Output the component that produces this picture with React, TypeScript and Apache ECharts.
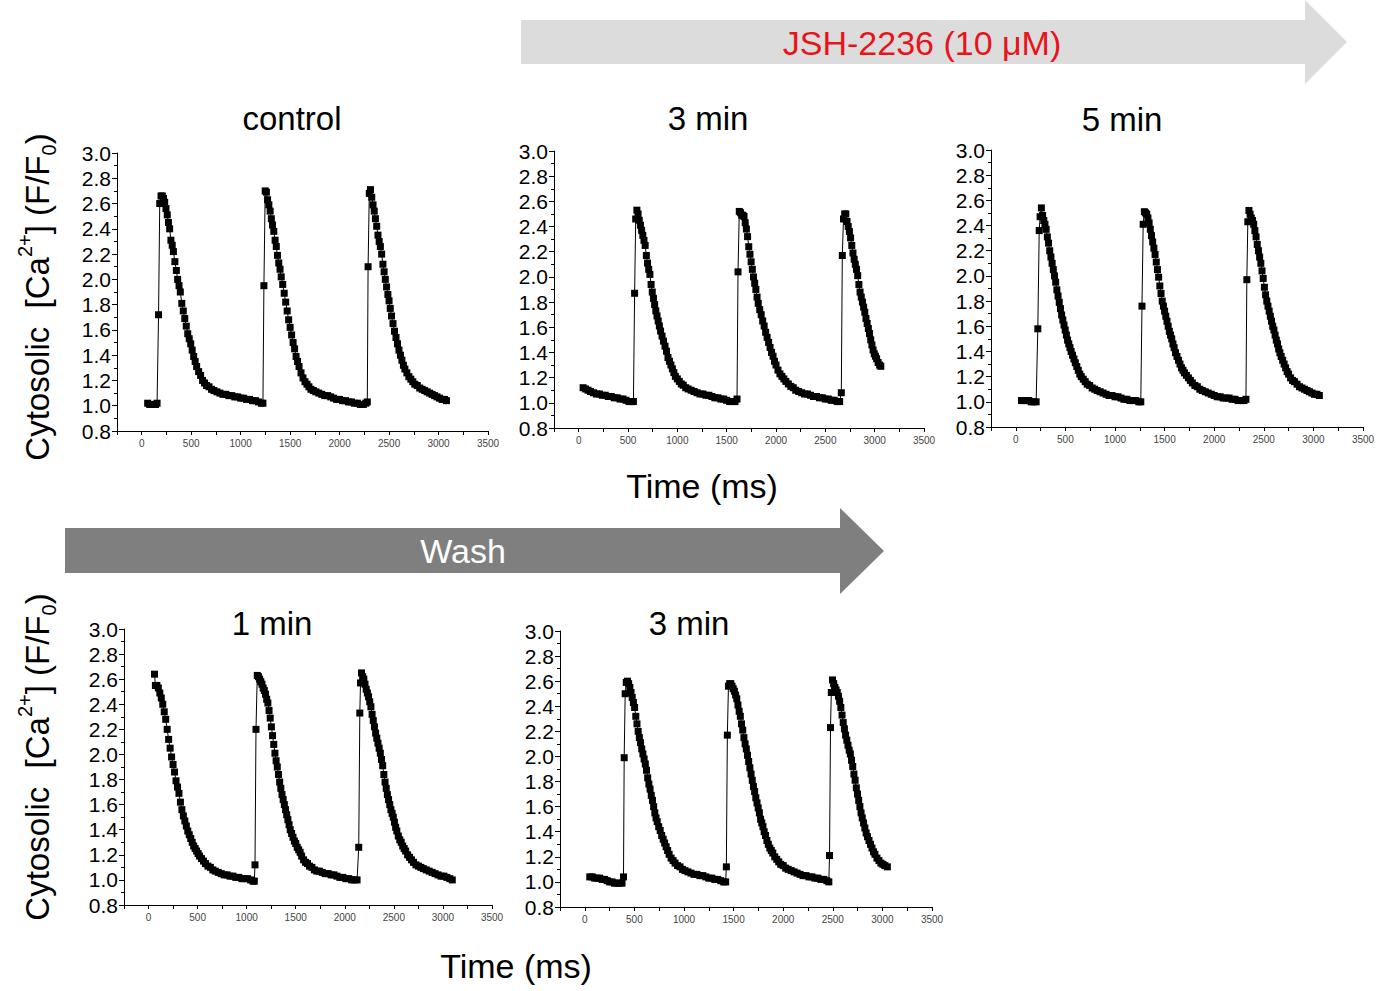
import React, { useEffect, useRef } from "react";
import * as echarts from "echarts";

// ---------- data (time in ms, cytosolic Ca2+ as F/F0) ----------
const panelTitles = ["control", "3 min", "5 min", "1 min", "3 min"];
const xTitle = "Time (ms)";
const drugLabel = "JSH-2236 (10 μM)";
const washLabel = "Wash";

const ctrlTrace: number[][] = [
  [60,1.02],[80,1.01],[100,1.01],[120,1.01],[140,1.01],[155,1.02],[170,1.72],[182,2.60],[195,2.66],[208,2.66],[220,2.64],[232,2.61],[245,2.56],[258,2.51],[270,2.45],[282,2.40],[295,2.31],[308,2.27],[320,2.22],[335,2.14],[350,2.07],[363,2.00],[377,1.95],[390,1.90],[405,1.81],[420,1.75],[435,1.69],[450,1.63],[465,1.57],[480,1.53],[495,1.49],[510,1.44],[525,1.39],[540,1.35],[555,1.31],[575,1.27],[595,1.24],[615,1.20],[635,1.18],[655,1.16],[680,1.15],[705,1.13],[730,1.12],[760,1.11],[790,1.10],[820,1.09],[850,1.09],[880,1.08],[910,1.08],[940,1.07],[970,1.07],[1000,1.06],[1030,1.06],[1060,1.05],[1090,1.05],[1120,1.04],[1150,1.04],[1180,1.03],[1210,1.02],[1225,1.02],
  [1235,1.95],[1248,2.70],[1260,2.69],[1272,2.63],[1285,2.59],[1298,2.54],[1310,2.48],[1322,2.43],[1335,2.38],[1348,2.31],[1360,2.26],[1372,2.19],[1385,2.13],[1398,2.08],[1410,2.02],[1425,1.96],[1440,1.89],[1455,1.82],[1470,1.75],[1485,1.68],[1500,1.62],[1515,1.56],[1530,1.50],[1545,1.45],[1560,1.39],[1575,1.35],[1590,1.31],[1610,1.26],[1630,1.22],[1650,1.19],[1670,1.17],[1690,1.15],[1710,1.13],[1735,1.12],[1760,1.11],[1790,1.10],[1820,1.09],[1850,1.08],[1880,1.08],[1910,1.07],[1940,1.06],[1970,1.05],[2000,1.05],[2030,1.04],[2060,1.04],[2090,1.03],[2120,1.03],[2150,1.02],[2180,1.02],[2210,1.01],[2240,1.01],[2265,1.02],[2280,1.03],
  [2288,2.10],[2300,2.68],[2312,2.71],[2325,2.65],[2338,2.59],[2350,2.54],[2362,2.48],[2375,2.42],[2388,2.35],[2400,2.30],[2412,2.26],[2425,2.20],[2438,2.12],[2450,2.06],[2462,2.00],[2475,1.94],[2488,1.88],[2500,1.83],[2512,1.77],[2525,1.71],[2540,1.65],[2555,1.59],[2570,1.54],[2585,1.49],[2600,1.44],[2615,1.40],[2630,1.36],[2645,1.32],[2660,1.29],[2680,1.26],[2700,1.23],[2720,1.21],[2740,1.19],[2760,1.17],[2785,1.16],[2810,1.14],[2835,1.13],[2860,1.12],[2885,1.11],[2910,1.10],[2935,1.09],[2960,1.08],[2985,1.07],[3010,1.06],[3035,1.05],[3060,1.05],[3080,1.04]
];

const drug3Trace: number[][] = [
  [45,1.12],[70,1.11],[95,1.10],[120,1.09],[150,1.08],[180,1.07],[210,1.07],[240,1.06],[270,1.06],[300,1.05],[330,1.05],[360,1.04],[390,1.04],[420,1.03],[450,1.03],[480,1.02],[510,1.01],[535,1.01],[555,1.01],
  [567,1.87],[578,2.46],[590,2.53],[602,2.50],[614,2.45],[626,2.41],[638,2.37],[650,2.33],[662,2.29],[674,2.25],[686,2.17],[698,2.11],[710,2.06],[722,2.02],[734,1.94],[746,1.88],[758,1.83],[770,1.78],[782,1.73],[794,1.69],[806,1.65],[818,1.61],[830,1.57],[845,1.53],[860,1.49],[875,1.45],[890,1.41],[905,1.36],[920,1.33],[935,1.30],[950,1.27],[965,1.24],[980,1.21],[1000,1.19],[1020,1.17],[1040,1.15],[1060,1.14],[1085,1.12],[1110,1.11],[1140,1.10],[1170,1.09],[1200,1.08],[1230,1.07],[1260,1.07],[1290,1.06],[1320,1.06],[1350,1.05],[1380,1.04],[1410,1.04],[1440,1.03],[1470,1.03],[1500,1.02],[1530,1.01],[1560,1.01],[1585,1.01],[1605,1.03],
  [1615,2.04],[1628,2.52],[1640,2.51],[1652,2.49],[1664,2.49],[1676,2.48],[1688,2.43],[1700,2.38],[1712,2.32],[1724,2.24],[1736,2.18],[1748,2.12],[1760,2.06],[1772,2.00],[1784,1.95],[1796,1.90],[1808,1.84],[1820,1.79],[1835,1.74],[1850,1.70],[1865,1.65],[1880,1.61],[1895,1.56],[1910,1.52],[1925,1.48],[1940,1.44],[1955,1.40],[1970,1.37],[1985,1.33],[2000,1.30],[2020,1.26],[2040,1.23],[2060,1.21],[2080,1.19],[2100,1.17],[2125,1.15],[2150,1.13],[2175,1.12],[2200,1.10],[2230,1.09],[2260,1.08],[2290,1.07],[2320,1.07],[2350,1.06],[2380,1.05],[2410,1.05],[2440,1.04],[2470,1.04],[2500,1.03],[2530,1.03],[2560,1.02],[2590,1.02],[2620,1.01],[2645,1.01],[2662,1.08],
  [2672,2.17],[2684,2.46],[2696,2.50],[2708,2.50],[2720,2.44],[2732,2.40],[2744,2.36],[2756,2.31],[2768,2.25],[2780,2.19],[2792,2.14],[2804,2.10],[2816,2.06],[2828,2.01],[2840,1.94],[2852,1.88],[2864,1.84],[2876,1.80],[2888,1.76],[2900,1.72],[2912,1.67],[2924,1.63],[2936,1.59],[2948,1.55],[2960,1.50],[2972,1.46],[2984,1.42],[2996,1.39],[3008,1.37],[3020,1.35],[3035,1.32],[3050,1.30],[3062,1.29]
];

const drug5Trace: number[][] = [
  [57,1.01],[80,1.01],[105,1.01],[130,1.01],[155,1.00],[180,1.00],[205,1.00],[222,1.58],[236,2.36],[245,2.47],[258,2.54],[270,2.48],[282,2.44],[294,2.41],[306,2.37],[318,2.31],[330,2.26],[342,2.20],[354,2.15],[366,2.10],[378,2.05],[390,2.00],[402,1.95],[414,1.89],[426,1.84],[438,1.79],[450,1.74],[462,1.69],[474,1.65],[486,1.61],[498,1.57],[510,1.53],[522,1.49],[534,1.46],[546,1.43],[558,1.40],[572,1.37],[586,1.34],[600,1.31],[615,1.28],[630,1.25],[645,1.22],[660,1.20],[680,1.18],[700,1.16],[720,1.14],[745,1.13],[770,1.11],[795,1.10],[820,1.09],[850,1.08],[880,1.07],[910,1.06],[940,1.05],[970,1.05],[1000,1.04],[1030,1.04],[1060,1.03],[1090,1.02],[1120,1.02],[1150,1.01],[1180,1.01],[1210,1.01],[1240,1.00],[1260,1.00],
  [1272,1.76],[1284,2.41],[1296,2.51],[1308,2.50],[1320,2.49],[1332,2.46],[1344,2.42],[1356,2.37],[1368,2.32],[1380,2.27],[1392,2.22],[1404,2.17],[1416,2.11],[1428,2.05],[1440,1.99],[1452,1.92],[1464,1.86],[1476,1.80],[1488,1.76],[1500,1.72],[1512,1.68],[1524,1.64],[1536,1.60],[1548,1.56],[1560,1.53],[1572,1.50],[1584,1.46],[1596,1.43],[1610,1.39],[1625,1.36],[1640,1.33],[1655,1.30],[1670,1.27],[1685,1.25],[1700,1.23],[1720,1.21],[1740,1.19],[1760,1.17],[1780,1.15],[1805,1.13],[1830,1.12],[1855,1.10],[1880,1.09],[1910,1.08],[1940,1.07],[1970,1.06],[2000,1.05],[2030,1.04],[2060,1.04],[2090,1.03],[2120,1.03],[2150,1.03],[2180,1.02],[2210,1.02],[2240,1.01],[2270,1.01],[2300,1.01],[2320,1.02],
  [2329,1.97],[2339,2.43],[2350,2.52],[2362,2.49],[2374,2.46],[2386,2.44],[2398,2.41],[2410,2.36],[2422,2.31],[2434,2.25],[2446,2.20],[2458,2.15],[2470,2.10],[2482,2.04],[2494,1.98],[2506,1.91],[2518,1.85],[2530,1.80],[2542,1.76],[2554,1.72],[2566,1.68],[2578,1.64],[2590,1.60],[2602,1.57],[2614,1.53],[2626,1.49],[2638,1.46],[2650,1.42],[2662,1.39],[2675,1.36],[2690,1.33],[2705,1.30],[2720,1.27],[2735,1.24],[2750,1.22],[2770,1.19],[2790,1.17],[2810,1.16],[2835,1.14],[2860,1.12],[2885,1.11],[2910,1.10],[2935,1.09],[2960,1.08],[2985,1.07],[3010,1.06],[3035,1.06],[3060,1.05]
];

const wash1Trace: number[][] = [
  [61,2.64],[70,2.55],[85,2.55],[100,2.53],[115,2.49],[130,2.45],[145,2.40],[160,2.34],[175,2.28],[190,2.20],[205,2.12],[220,2.05],[235,1.98],[250,1.92],[265,1.86],[280,1.79],[295,1.74],[310,1.69],[325,1.62],[340,1.56],[355,1.51],[370,1.47],[385,1.43],[400,1.39],[415,1.36],[430,1.33],[445,1.30],[460,1.27],[475,1.25],[490,1.23],[505,1.21],[520,1.19],[540,1.17],[560,1.15],[580,1.13],[605,1.11],[630,1.10],[655,1.08],[680,1.07],[710,1.06],[740,1.05],[770,1.04],[800,1.04],[830,1.03],[860,1.03],[890,1.02],[920,1.02],[950,1.01],[980,1.01],[1010,1.01],[1040,1.00],[1065,0.99],[1078,0.99],
  [1085,1.12],[1095,2.20],[1108,2.63],[1120,2.62],[1132,2.60],[1144,2.58],[1156,2.56],[1168,2.53],[1180,2.51],[1192,2.48],[1204,2.44],[1216,2.41],[1228,2.35],[1240,2.29],[1252,2.22],[1264,2.15],[1276,2.08],[1288,2.01],[1300,1.95],[1312,1.90],[1324,1.84],[1336,1.78],[1348,1.73],[1360,1.68],[1372,1.64],[1384,1.60],[1396,1.56],[1408,1.52],[1420,1.48],[1432,1.44],[1444,1.40],[1458,1.37],[1472,1.34],[1486,1.31],[1500,1.29],[1515,1.26],[1530,1.24],[1545,1.22],[1560,1.19],[1580,1.16],[1600,1.14],[1620,1.13],[1640,1.11],[1665,1.10],[1690,1.08],[1715,1.07],[1740,1.07],[1770,1.06],[1800,1.05],[1830,1.05],[1860,1.04],[1890,1.04],[1920,1.03],[1950,1.02],[1980,1.02],[2010,1.01],[2040,1.01],[2070,1.00],[2100,1.00],[2125,1.00],
  [2142,1.26],[2153,2.33],[2160,2.57],[2170,2.65],[2182,2.62],[2194,2.60],[2206,2.56],[2218,2.52],[2230,2.49],[2242,2.46],[2254,2.42],[2266,2.38],[2278,2.32],[2290,2.27],[2302,2.22],[2314,2.17],[2326,2.13],[2338,2.09],[2350,2.05],[2362,2.01],[2374,1.96],[2386,1.91],[2398,1.84],[2410,1.78],[2422,1.73],[2434,1.68],[2446,1.64],[2458,1.60],[2470,1.56],[2482,1.53],[2494,1.50],[2506,1.46],[2518,1.42],[2530,1.39],[2545,1.35],[2560,1.32],[2575,1.30],[2590,1.27],[2605,1.25],[2620,1.23],[2640,1.20],[2660,1.18],[2680,1.16],[2700,1.14],[2725,1.12],[2750,1.11],[2775,1.10],[2800,1.09],[2830,1.08],[2860,1.07],[2890,1.06],[2920,1.05],[2950,1.04],[2980,1.03],[3010,1.03],[3040,1.02],[3070,1.01],[3095,1.00]
];

const wash3Trace: number[][] = [
  [50,1.04],[75,1.04],[100,1.03],[125,1.03],[150,1.03],[175,1.02],[200,1.02],[225,1.01],[250,1.00],[275,1.00],[300,0.99],[325,0.99],[350,0.99],[375,0.99],[390,1.04],
  [397,1.99],[407,2.50],[418,2.59],[430,2.60],[442,2.58],[454,2.55],[466,2.51],[478,2.47],[490,2.43],[502,2.39],[514,2.32],[526,2.26],[538,2.20],[550,2.15],[562,2.11],[574,2.06],[586,2.02],[598,1.98],[610,1.94],[622,1.89],[634,1.83],[646,1.78],[658,1.74],[670,1.69],[682,1.65],[694,1.60],[706,1.55],[718,1.51],[730,1.48],[745,1.44],[760,1.41],[775,1.37],[790,1.34],[805,1.31],[820,1.28],[835,1.25],[850,1.22],[870,1.19],[890,1.17],[910,1.15],[935,1.13],[960,1.12],[985,1.10],[1010,1.09],[1040,1.08],[1070,1.07],[1100,1.06],[1130,1.06],[1160,1.05],[1190,1.05],[1220,1.04],[1250,1.03],[1280,1.03],[1310,1.02],[1340,1.02],[1370,1.01],[1400,1.00],[1420,1.00],
  [1427,1.12],[1437,2.17],[1448,2.56],[1460,2.58],[1472,2.58],[1484,2.56],[1496,2.54],[1508,2.52],[1520,2.49],[1532,2.46],[1544,2.41],[1556,2.36],[1568,2.32],[1580,2.26],[1592,2.21],[1604,2.15],[1616,2.10],[1628,2.06],[1640,2.01],[1652,1.96],[1664,1.91],[1676,1.86],[1688,1.81],[1700,1.76],[1712,1.72],[1724,1.67],[1736,1.63],[1748,1.59],[1760,1.55],[1772,1.50],[1784,1.47],[1796,1.44],[1808,1.40],[1822,1.37],[1836,1.33],[1850,1.30],[1865,1.27],[1880,1.25],[1895,1.23],[1915,1.20],[1935,1.18],[1955,1.16],[1975,1.14],[2000,1.13],[2025,1.11],[2050,1.10],[2080,1.09],[2110,1.08],[2140,1.07],[2170,1.06],[2200,1.05],[2230,1.05],[2260,1.04],[2290,1.04],[2320,1.03],[2350,1.03],[2380,1.02],[2410,1.02],[2440,1.01],[2460,1.00],
  [2467,1.21],[2477,2.23],[2485,2.51],[2497,2.61],[2509,2.58],[2521,2.55],[2533,2.53],[2545,2.51],[2557,2.48],[2569,2.44],[2581,2.39],[2593,2.33],[2605,2.27],[2617,2.22],[2629,2.17],[2641,2.13],[2653,2.09],[2665,2.05],[2677,2.02],[2689,1.97],[2701,1.92],[2713,1.86],[2725,1.81],[2737,1.75],[2749,1.70],[2761,1.65],[2773,1.60],[2785,1.55],[2797,1.51],[2810,1.47],[2823,1.43],[2836,1.39],[2850,1.36],[2865,1.33],[2880,1.30],[2895,1.27],[2910,1.24],[2925,1.22],[2945,1.19],[2965,1.17],[2985,1.15],[3005,1.14],[3025,1.13],[3050,1.12]
];

const traces = [ctrlTrace, drug3Trace, drug5Trace, wash1Trace, wash3Trace];

// ---------- layout ----------
const FONT = "'Liberation Sans', Arial, Helvetica, sans-serif";
const grids = [
  { left: 117, top: 153, width: 371, height: 278 },
  { left: 554, top: 151, width: 370, height: 277 },
  { left: 991, top: 150, width: 372, height: 277 },
  { left: 124, top: 629, width: 368, height: 276 },
  { left: 560, top: 631, width: 372, height: 276 },
];
const titlePos = [
  [292, 118],
  [708, 118],
  [1122, 119],
  [272, 623],
  [689, 623],
];

function yTitle(cx: number, cy: number) {
  return {
    type: "text",
    x: cx,
    y: cy,
    rotation: Math.PI / 2,
    style: {
      text: "Cytosolic  [Ca{sup|2+}] (F/F{sub|0})",
      fontSize: 33,
      fontFamily: FONT,
      fill: "#000",
      align: "center",
      verticalAlign: "middle",
      lineHeight: 44,
      rich: {
        sup: { fontSize: 20, fontFamily: FONT, lineHeight: 20, verticalAlign: "top", fill: "#000" },
        sub: { fontSize: 20, fontFamily: FONT, lineHeight: 20, verticalAlign: "bottom", fill: "#000" },
      },
    },
  };
}

export default function App() {
  const ref = useRef<HTMLDivElement>(null);
  useEffect(() => {
    if (!ref.current) return;
    const chart = echarts.init(ref.current, undefined, { renderer: "svg" });

    const xAxes = grids.map((_, i) => ({
      type: "value",
      gridIndex: i,
      min: -250,
      max: 3500,
      interval: 250,
      axisLine: { show: true, onZero: false, lineStyle: { color: "#000", width: 1 } },
      axisTick: { show: true, length: 4, lineStyle: { color: "#000" } },
      axisLabel: {
        show: true,
        fontSize: 10,
        color: "#444",
        fontFamily: FONT,
        margin: 7,
        formatter: (v: number) => (v >= 0 && v % 500 === 0 ? String(v) : ""),
      },
      splitLine: { show: false },
    }));

    const yAxes = grids.map((_, i) => ({
      type: "value",
      gridIndex: i,
      min: 0.8,
      max: 3.0,
      interval: 0.2,
      axisLine: { show: true, onZero: false, lineStyle: { color: "#000", width: 1 } },
      axisTick: { show: true, length: 5, lineStyle: { color: "#000" } },
      minorTick: { show: true, splitNumber: 2, length: 3, lineStyle: { color: "#000" } },
      axisLabel: {
        show: true,
        fontSize: 21,
        color: "#000",
        fontFamily: FONT,
        margin: 6,
        formatter: (v: number) => v.toFixed(1),
      },
      splitLine: { show: false },
    }));

    const series = traces.map((d, i) => ({
      type: "line",
      xAxisIndex: i,
      yAxisIndex: i,
      data: d,
      symbol: "rect",
      symbolSize: 7,
      showSymbol: true,
      lineStyle: { color: "#000", width: 1 },
      itemStyle: { color: "#000" },
      silent: true,
    }));

    const graphics: any[] = [
      {
        type: "polygon",
        shape: { points: [[521, 20], [1305, 20], [1305, 0], [1347, 42], [1305, 84], [1305, 64], [521, 64]] },
        style: { fill: "#dcdcdc" },
      },
      {
        type: "text",
        x: 922,
        y: 43,
        style: { text: drugLabel, fontSize: 34, fontFamily: FONT, fill: "#e8141b", align: "center", verticalAlign: "middle" },
      },
      {
        type: "polygon",
        shape: { points: [[65, 528], [840, 528], [840, 508], [884, 551], [840, 594], [840, 573], [65, 573]] },
        style: { fill: "#7f7f7f" },
      },
      {
        type: "text",
        x: 463,
        y: 551,
        style: { text: washLabel, fontSize: 34, fontFamily: FONT, fill: "#fff", align: "center", verticalAlign: "middle" },
      },
      yTitle(37, 297),
      yTitle(37, 757),
      {
        type: "text",
        x: 702,
        y: 486,
        style: { text: xTitle, fontSize: 34, fontFamily: FONT, fill: "#000", align: "center", verticalAlign: "middle" },
      },
      {
        type: "text",
        x: 516,
        y: 966,
        style: { text: xTitle, fontSize: 34, fontFamily: FONT, fill: "#000", align: "center", verticalAlign: "middle" },
      },
      ...panelTitles.map((t, i) => ({
        type: "text",
        x: titlePos[i][0],
        y: titlePos[i][1],
        style: { text: t, fontSize: 33, fontFamily: FONT, fill: "#000", align: "center", verticalAlign: "middle" },
      })),
    ];

    chart.setOption({
      animation: false,
      backgroundColor: "#fff",
      grid: grids.map((g) => ({ ...g, containLabel: false })),
      xAxis: xAxes,
      yAxis: yAxes,
      series,
      graphic: graphics,
    });
    return () => chart.dispose();
  }, []);

  return (
    <div
      ref={ref}
      style={{ position: "fixed", left: 0, top: 0, width: 1382, height: 991, background: "#fff" }}
    />
  );
}
